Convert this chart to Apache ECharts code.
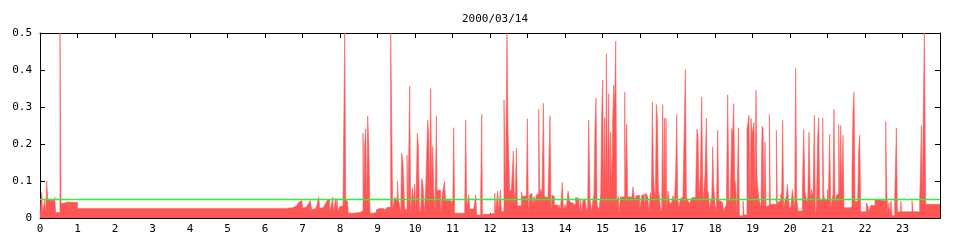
<!DOCTYPE html>
<html><head><meta charset="utf-8">
<script src="https://cdn.jsdelivr.net/npm/echarts@6/dist/echarts.min.js"></script>
<style>html,body{margin:0;padding:0;background:#fff}#c{width:960px;height:240px}</style>
</head><body><div id="c"></div>
<script>
const chartTitle = '2000/03/14';
const hourLabels = ['0','1','2','3','4','5','6','7','8','9','10','11','12','13','14','15','16','17','18','19','20','21','22','23'];
const yLabels = ['0','0.1','0.2','0.3','0.4','0.5'];
const limitValue = 0.05;
const dayEnd = 1440;
// start minute of each step
const times = [0,2.7,4.3,7.5,9.1,10.7,12.3,13.9,23.5,25.1,32,33.6,38.4,40,41.6,43.2,60,179.5,181,363,364.6,367.5,369,388.3,390,394,
404.3,407.5,410.7,413.9,417.1,418.7,420.3,423.5,426.7,429.9,432.3,433.9,434.7,437.9,441.1,443.5,446,447.5,450.7,453.9,457.1,459.5,460.8,461.9,463.5,
466.2,468.3,469.4,471,472.6,474.2,475.2,476.8,479.5,481.6,484.8,487.5,489.1,491.8,493.4,500.8,511.5,514.7,516.8,517.9,519.5,521.1,522.7,524.3,525.9,528,
534.4,538.2,540.8,543.5,546.2,548.8,553.1,555.2,561.1,564.3,567,568.6,570.2,571.8,573.4,575.5,577.1,578.7,580.8,583.5,587.2,588.8,591.5,593.1,595.8,597.9,
599.5,601.1,603.8,605.4,607,609.1,610.7,612.8,615,617.1,620.3,621.9,623.5,625.1,626.7,628.3,629.9,632,634.2,635.2,636.8,639,641.1,643.8,645.4,647,649.1,
655.5,660.3,661.9,663.5,679.5,681.1,682.7,685.9,687.5,693.9,697.1,698.7,705.1,706.7,707.8,719.5,727.5,729.1,732.3,733.9,736.6,738.2,742.4,744.6,747.2,748.8,
751.5,754.2,755.8,757.4,759,760.6,762.2,763.8,770.2,771.8,775,778.2,779.8,781.4,783.5,785.1,787.2,788.8,790.4,792,794.2,796.3,797.9,799.5,801.6,803.2,805.4,
807,809.1,812.8,814.4,816,817.6,819.2,821.4,823,828.3,830.4,832.6,835.8,837.4,840,842.2,844.8,847.5,850.2,852.3,857.1,860.3,862.4,865.1,866.7,868.8,872.6,
874.7,876.3,877.9,880,882.2,884.3,886.4,888,889.6,891.2,893.4,895,897.1,898.7,900.3,901.9,903.5,905.1,906.2,907.8,909.9,911.5,913.1,914.7,916.3,917.9,919.5,
921.1,922.7,925.4,926.4,928.6,935.5,937.1,938.7,940.3,946.2,948.8,951.5,954.2,959.5,962.7,964.8,967,969.1,972.3,974.4,976.6,978.2,979.8,981.4,983,984.6,
986.2,987.8,989.4,991.5,993.1,994.7,996.3,997.9,999,1000,1001.6,1002.7,1004.8,1006.4,1008.6,1010.7,1012.8,1015,1017.1,1018.7,1020.3,1022.4,1024.6,1026.7,
1028.8,1031,1032.6,1034.2,1036.8,1039.5,1042.2,1044.8,1049.1,1051.2,1052.8,1054.4,1056.6,1058.7,1060.8,1064,1066.2,1067.8,1069.4,1071.5,1073.1,1074.7,1076.3,
1077.9,1080,1082.2,1084.3,1085.9,1088.6,1091.8,1093.9,1096,1098.2,1100.3,1102.4,1104.6,1106.7,1108.3,1109.9,1111.5,1113.1,1114.7,1117.4,1119,1124.8,1126.4,
1131.2,1132.8,1134.4,1136,1137.6,1139.2,1140.8,1142.4,1144,1145.6,1147.2,1148.8,1150.4,1153.6,1155.2,1156.8,1158.4,1160,1161.6,1164.8,1167,1168.6,1178.2,
1179.8,1181.4,1183.5,1185.1,1186.7,1188.3,1189.9,1192,1194.2,1195.8,1197.4,1199.5,1201.6,1203.8,1205.4,1207.5,1209.1,1210.7,1212.8,1219.8,1221.9,1224,1226.2,
1228.3,1230.4,1232.6,1234.7,1236.8,1239,1240.6,1242.2,1244.3,1245.9,1247.5,1250.2,1252.3,1253.9,1256,1258.2,1259.8,1261.4,1263.5,1265.1,1267.2,1268.8,1270.4,
1272,1274.2,1275.8,1277.9,1279.5,1281.1,1282.7,1284.8,1286.4,1290.7,1293.4,1295.5,1297.6,1299.2,1300.8,1302.4,1304,1306.2,1308.3,1309.9,1311.5,1313.1,1322.2,
1324.3,1326.4,1329.1,1336,1338.2,1353.1,1354.7,1356.3,1358.4,1359.5,1361.6,1363.2,1367.5,1370.2,1371.8,1377.1,1378.7,1395.2,1396.8,1407.5,1410.2,1411.8,
1413.4,1415,1417.1];
const values = [0.015,0.069,0.011,0.048,0.011,0.1,0.055,0.048,0.056,0.015,0.5,0.04,0.043,0.04,0.043,0.042,0.026,0.023,0.026,0.023,0.026,0.023,0.026,0.023,0.026,0.028,
0.03,0.033,0.037,0.042,0.047,0.052,0.027,0.03,0.034,0.04,0.047,0.052,0.022,0.025,0.03,0.038,0.057,0.026,0.029,0.034,0.04,0.047,0.052,0.05,0.017,
0.035,0.056,0.018,0.029,0.053,0.026,0.053,0.018,0.031,0.033,0.04,0.5,0.051,0.045,0.013,0.015,0.017,0.019,0.229,0.026,0.202,0.241,0.026,0.276,0.206,0.013,
0.016,0.022,0.026,0.022,0.026,0.022,0.026,0.029,0.5,0.022,0.055,0.053,0.051,0.1,0.05,0.033,0.008,0.175,0.148,0.022,0.17,0.013,0.357,0.013,0.082,0.044,
0.091,0.013,0.229,0.195,0.016,0.022,0.107,0.089,0.013,0.08,0.265,0.224,0.076,0.35,0.09,0.193,0.08,0.013,0.276,0.07,0.076,0.074,0.013,0.067,0.08,0.098,0.047,
0.044,0.018,0.244,0.013,0.017,0.265,0.031,0.062,0.024,0.026,0.062,0.008,0.065,0.28,0.01,0.013,0.067,0.018,0.073,0.018,0.076,0.018,0.319,0.058,0.5,0.24,
0.071,0.078,0.082,0.181,0.037,0.078,0.188,0.033,0.071,0.058,0.06,0.062,0.268,0.013,0.062,0.067,0.058,0.037,0.058,0.042,0.062,0.067,0.294,0.067,0.078,0.062,0.31,
0.058,0.055,0.058,0.06,0.276,0.017,0.062,0.058,0.035,0.026,0.036,0.022,0.096,0.022,0.036,0.026,0.073,0.044,0.04,0.035,0.055,0.053,0.013,0.05,0.013,0.048,0.044,
0.017,0.031,0.265,0.055,0.017,0.044,0.065,0.249,0.324,0.038,0.022,0.031,0.065,0.276,0.373,0.064,0.271,0.06,0.444,0.06,0.336,0.05,0.233,0.06,0.262,0.359,0.305,
0.478,0.045,0.058,0.007,0.057,0.34,0.07,0.253,0.057,0.043,0.084,0.048,0.061,0.021,0.061,0.064,0.021,0.068,0.058,0.019,0.068,0.049,0.314,0.127,0.073,0.06,
0.307,0.27,0.073,0.051,0.015,0.024,0.307,0.03,0.27,0.028,0.27,0.028,0.073,0.049,0.037,0.043,0.06,0.043,0.122,0.28,0.052,0.028,0.052,0.056,
0.07,0.264,0.402,0.056,0.046,0.039,0.054,0.056,0.072,0.24,0.224,0.056,0.115,0.327,0.037,0.12,0.27,0.075,0.068,0.017,0.053,0.039,0.192,
0.086,0.039,0.017,0.237,0.048,0.043,0.048,0.017,0.028,0.037,0.333,0.043,0.056,0.242,0.224,0.309,0.106,0.088,0.006,0.244,0.006,0.046,0.008,
0.24,0.258,0.278,0.037,0.269,0.224,0.225,0.258,0.056,0.345,0.104,0.102,0.05,0.03,0.248,0.242,0.028,0.206,0.031,0.034,0.28,0.037,0.237,
0.034,0.043,0.048,0.061,0.07,0.264,0.028,0.048,0.059,0.091,0.056,0.021,0.034,0.077,0.052,0.028,0.405,0.054,0.019,0.068,0.24,0.071,0.052,
0.04,0.232,0.052,0.077,0.054,0.278,0.006,0.028,0.219,0.271,0.052,0.048,0.27,0.061,0.048,0.052,0.077,0.048,0.226,0.028,0.05,0.064,0.294,
0.043,0.061,0.066,0.253,0.052,0.25,0.07,0.224,0.028,0.025,0.028,0.025,0.03,0.138,0.289,0.34,0.044,0.045,0.046,0.183,0.224,0.017,0.041,
0.034,0.017,0.034,0.051,0.046,0.261,0.075,0.017,0.041,0.006,0.046,0.006,0.049,0.243,0.017,0.046,0.017,0.046,0.017,0.045,0.25,0.045,
0.309,0.5,0.037];

const seriesData = times.map((t, i) => [t, values[i]]);
seriesData.push([dayEnd, values[values.length - 1]]);
const limitData = [[0, limitValue], [dayEnd, limitValue]];

const FONT = 'DejaVu Sans Mono';
const chart = echarts.init(document.getElementById('c'), null, {renderer: 'canvas'});
const tickCommon = {show: true, inside: true, length: 5, lineStyle: {color: '#000', width: 1}};
const lineCommon = {show: true, onZero: false, lineStyle: {color: '#000', width: 1}};
chart.setOption({
  animation: false,
  backgroundColor: '#fff',
  title: {
    text: chartTitle, left: 490, top: 9, textAlign: 'center',
    textStyle: {fontFamily: FONT, fontSize: 11, fontWeight: 'normal', color: '#000'}
  },
  grid: {left: 40, right: 20, top: 33, bottom: 22, containLabel: false},
  xAxis: [{
    type: 'value', min: 0, max: dayEnd, interval: 60, position: 'bottom',
    axisLine: lineCommon, axisTick: tickCommon, splitLine: {show: false},
    axisLabel: {
      show: true, margin: 6, color: '#000', fontFamily: FONT, fontSize: 11,
      formatter: v => (v >= dayEnd ? '' : hourLabels[Math.round(v / 60)])
    }
  }, {
    type: 'value', min: 0, max: dayEnd, interval: 60, position: 'top',
    axisLine: lineCommon, axisTick: tickCommon, splitLine: {show: false}, axisLabel: {show: false}
  }],
  yAxis: [{
    type: 'value', min: 0, max: 0.5, interval: 0.1, position: 'left',
    axisLine: lineCommon, axisTick: tickCommon, splitLine: {show: false},
    axisLabel: {
      show: true, margin: 8, color: '#000', fontFamily: FONT, fontSize: 11,
      formatter: v => yLabels[Math.round(v * 10)]
    }
  }, {
    type: 'value', min: 0, max: 0.5, interval: 0.1, position: 'right',
    axisLine: lineCommon, axisTick: tickCommon, splitLine: {show: false}, axisLabel: {show: false}
  }],
  series: [{
    type: 'line', xAxisIndex: 0, yAxisIndex: 0, step: 'end', z: 2,
    data: seriesData, showSymbol: false, symbol: 'none', clip: true,
    lineStyle: {width: 0.6, color: '#ff5555'},
    itemStyle: {color: '#ff5555'},
    areaStyle: {color: '#ff5555', opacity: 1, origin: 'start'}
  }, {
    type: 'line', xAxisIndex: 0, yAxisIndex: 0, z: 5,
    data: limitData, showSymbol: false, symbol: 'none',
    lineStyle: {width: 1.3, color: '#33ee33', opacity: 1},
    itemStyle: {color: '#33ee33'}
  }]
});
</script>
</body></html>
